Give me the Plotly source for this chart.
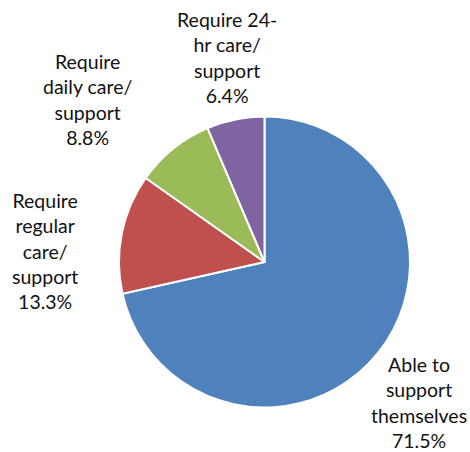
import plotly.graph_objects as go

# data
labels = ["Able to<br>support<br>themselves", "Require<br>regular<br>care/<br>support",
          "Require<br>daily care/<br>support", "Require 24-<br>hr care/<br>support"]
values = [71.5, 13.3, 8.8, 6.4]
colors = ["#4F81BD", "#C0504D", "#9BBB59", "#8064A2"]

W, H = 470, 452
cx, cy, r = 264.5, 262, 145.5

fig = go.Figure()
fig.add_trace(go.Pie(
    values=values,
    labels=labels,
    marker=dict(colors=colors, line=dict(color="white", width=2)),
    sort=False,
    direction="clockwise",
    rotation=0,
    textinfo="none",
    hoverinfo="label+percent",
    domain=dict(x=[(cx - r) / W, (cx + r) / W],
                y=[(H - cy - r) / H, (H - cy + r) / H]),
    showlegend=False,
))

# label centres (pixels)
label_pos = [(419, 402), (45, 251), (87, 99), (227, 58)]
for lab, v, (lx, ly) in zip(labels, values, label_pos):
    fig.add_annotation(
        x=lx / W, y=1 - ly / H, xref="paper", yref="paper",
        text=f"{lab}<br>{v}%", showarrow=False,
        xanchor="center", yanchor="middle", align="center",
        font=dict(family="Lato, sans-serif", size=19.5, color="#111111"),
    )

fig.update_layout(
    width=W, height=H,
    margin=dict(l=0, r=0, t=0, b=0),
    paper_bgcolor="white",
    plot_bgcolor="white",
)

# drop the default page margin so the figure sits at 0,0
fig.write_html("out.html", config={"displayModeBar": False},
               post_script="document.body.style.margin='0';")
